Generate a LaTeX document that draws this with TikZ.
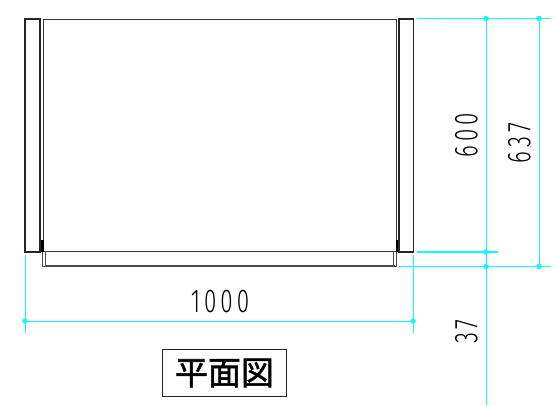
\documentclass[tikz,border=0pt]{standalone}
\usepackage{fontspec}
\setmainfont{Fira Sans}[UprightFont=* Light]
\newfontfamily\cjk{Noto Sans CJK JP}[FakeBold=1.6]
\definecolor{dimc}{HTML}{10FAFA}
\tikzset{
  x=1pt,y=-1pt,
  part/.style={draw=black!85,line width=1.1pt},
  main part/.style={draw=black!80,line width=.85pt},
  thin part/.style={draw=black!70,line width=.7pt},
  dimline/.style={draw=dimc,line width=1pt},
  dimthick/.style={draw=dimc,line width=1.9pt},
  dimdot/.style={circle,fill=dimc,inner sep=0pt,minimum size=5.5pt},
  dimtext/.style={inner sep=0pt,font=\fontsize{33}{33}\selectfont},
}
\newcommand{\spaced}[1]{\scalebox{.68}[1]{\addfontfeature{LetterSpace=18}#1}}
\begin{document}
\begin{tikzpicture}
\useasboundingbox (0,0) rectangle (557,405);
% parts
\draw[part] (25,19) rectangle (40,252);
\draw[part] (399,19) rectangle (413.5,252);
\draw[main part] (43,19) -- (396,19) (43,19) -- (43,251) (396,19) -- (396,251);
\draw[main part] (43,251) -- (396,251);
\draw[part,draw=black!70] (45,266) -- (395,266);
\draw[thin part] (42,251) rectangle (45,266.5);
\draw[thin part] (393,251) rectangle (396,266.5);
\fill[black] (41,240) rectangle (43.5,252);
\fill[black] (395.5,240) rectangle (398,252);
% dimension points
\coordinate (top1) at (417,18.5);
\coordinate (top2) at (551,18.5);
\coordinate (mid1) at (417,252);
\coordinate (mid2) at (498,252);
\coordinate (low1) at (399,266.5);
\coordinate (low2) at (551,266.5);
\coordinate (leftA) at (25,255);
\coordinate (leftB) at (25,333);
\coordinate (rightA) at (413,255);
\coordinate (rightB) at (413,333);
\coordinate (v600end) at (486,405);
\node[dimdot] (d1) at (25,321) {};
\node[dimdot] (d2) at (413,321) {};
\node[dimdot] (d3) at (486,18.5) {};
\node[dimdot] (d4) at (539,18.5) {};
\node[dimdot] (d5) at (486,252) {};
\node[dimdot] (d6) at (486,266.5) {};
\node[dimdot] (d7) at (539,266.5) {};
\draw[dimline] (top1) -- (top2);
\draw[dimthick] (mid1) -- (mid2);
\draw[dimline] (low1) -- (low2);
\draw[dimline] (leftA) -- (leftB);
\draw[dimline] (rightA) -- (rightB);
\draw[dimline] (d1.center) -- (d2.center);
\draw[dimline] (d3.center) -- (v600end);
\draw[dimline] (d4.center) -- (d7.center);
% dimension texts
\node[dimtext] (t1000) at (220,302) {\spaced{1000}};
\node[dimtext,rotate=90] (t600) at (466.5,135) {\spaced{600}};
\node[dimtext,rotate=90] (t637) at (519.5,143) {\spaced{637}};
\node[dimtext,rotate=90] (t37) at (466.5,331.5) {\spaced{37}};
% title
\node[draw=black!85,line width=1pt,minimum width=124pt,minimum height=47pt,inner sep=0pt,font=\cjk\fontsize{33}{33}\selectfont] (title) at (224.5,373) {平面図};
\end{tikzpicture}
\end{document}
